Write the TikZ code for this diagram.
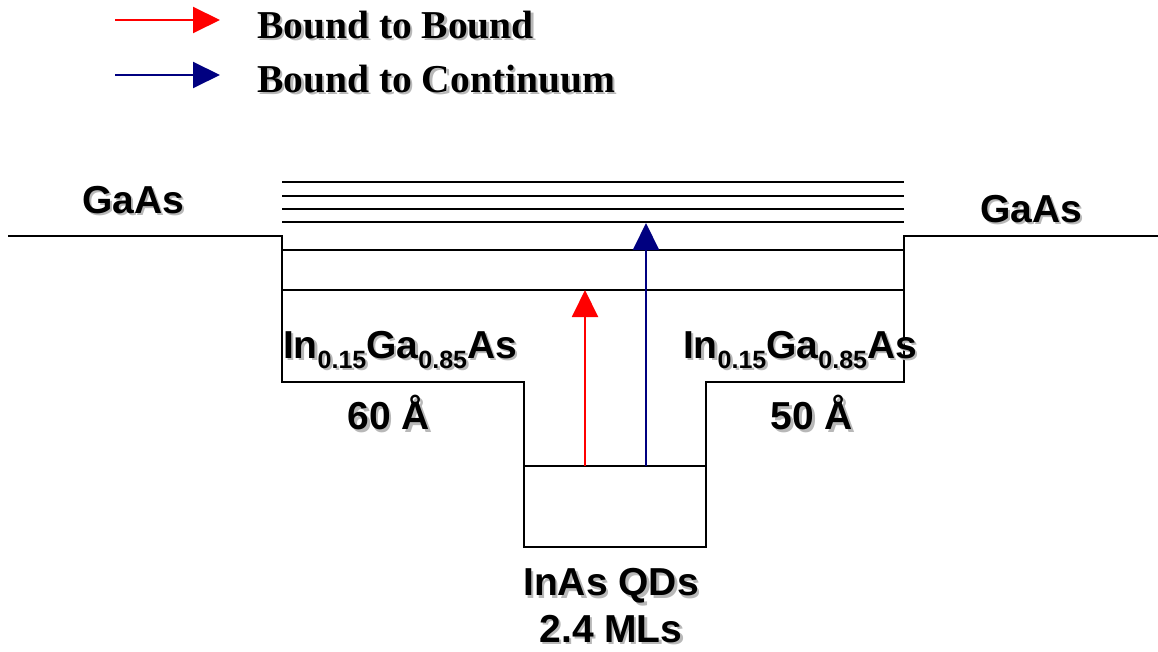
\documentclass[tikz,border=0pt]{standalone}
\usepackage{fontspec}
\setmainfont{Liberation Serif}
\newfontfamily\arialb{Liberation Sans}[BoldFont=* Bold]
\usetikzlibrary{arrows.meta}
\definecolor{bbred}{RGB}{255,0,0}
\definecolor{bcblue}{RGB}{0,0,128}
\newcommand{\shd}[1]{\makebox[0pt][l]{\kern2.5pt\raisebox{-2.5pt}{\color{black!28}#1}}#1}
\newcommand{\subs}[1]{\raisebox{-0.25em}{\fontsize{25}{25}\selectfont #1}}
\tikzset{
  lvl/.style={line width=2pt, black},
  well/.style={line width=2pt, black, line join=miter},
  redarr/.style={line width=2pt, bbred, -{Triangle[length=27pt,width=26pt]}},
  bluearr/.style={line width=2pt, bcblue, -{Triangle[length=27pt,width=26pt]}},
  lab/.style={inner sep=0pt, font=\arialb\bfseries\fontsize{39}{44}\selectfont, align=center},
  leg/.style={inner sep=0pt, anchor=west, font=\bfseries\fontsize{39.5}{42}\selectfont},
}
\begin{document}
\begin{tikzpicture}[x=1pt,y=-1pt]
\useasboundingbox (0,0) rectangle (1158,652);
% legend
\coordinate (l1s) at (115,20); \coordinate (l1e) at (220,20);
\coordinate (l2s) at (115,75); \coordinate (l2e) at (220,75);
\draw[redarr] (l1s) -- (l1e);
\draw[bluearr] (l2s) -- (l2e);
\node[leg] (t1) at (257,26) {\shd{Bound to Bound}};
\node[leg] (t2) at (257,80) {\shd{Bound to Continuum}};
% well profile
\draw[well] (8,236) -- (282,236) -- (282,382) -- (524,382) -- (524,547) -- (706,547) -- (706,382) -- (904,382) -- (904,236) -- (1158,236);
% continuum lines
\foreach \y in {182,196,209,222} \draw[lvl] (282,\y) -- (904,\y);
% bound levels
\draw[lvl] (282,250) -- (904,250);
\draw[lvl] (282,290) -- (904,290);
\draw[lvl] (524,466) -- (706,466);
% transitions
\coordinate (rs) at (585,466); \coordinate (re) at (585,290);
\coordinate (bs) at (646,466); \coordinate (be) at (646,223);
\draw[redarr] (rs) -- (re);
\draw[bluearr] (bs) -- (be);
% labels
\node[lab] (g1) at (133,201) {\shd{GaAs}};
\node[lab] (g2) at (1031,210) {\shd{GaAs}};
\node[lab] (i1) at (400,351) {\shd{In\subs{0.15}Ga\subs{0.85}As}};
\node[lab] (i2) at (800,351) {\shd{In\subs{0.15}Ga\subs{0.85}As}};
\node[lab] (w1) at (389,414) {\shd{60 Å}};
\node[lab] (w2) at (812,414) {\shd{50 Å}};
\node[lab] (q1) at (611,587) {\shd{InAs QDs}};
\node[lab] (q2) at (611,630) {\shd{2.4 MLs}};
\end{tikzpicture}
\end{document}
